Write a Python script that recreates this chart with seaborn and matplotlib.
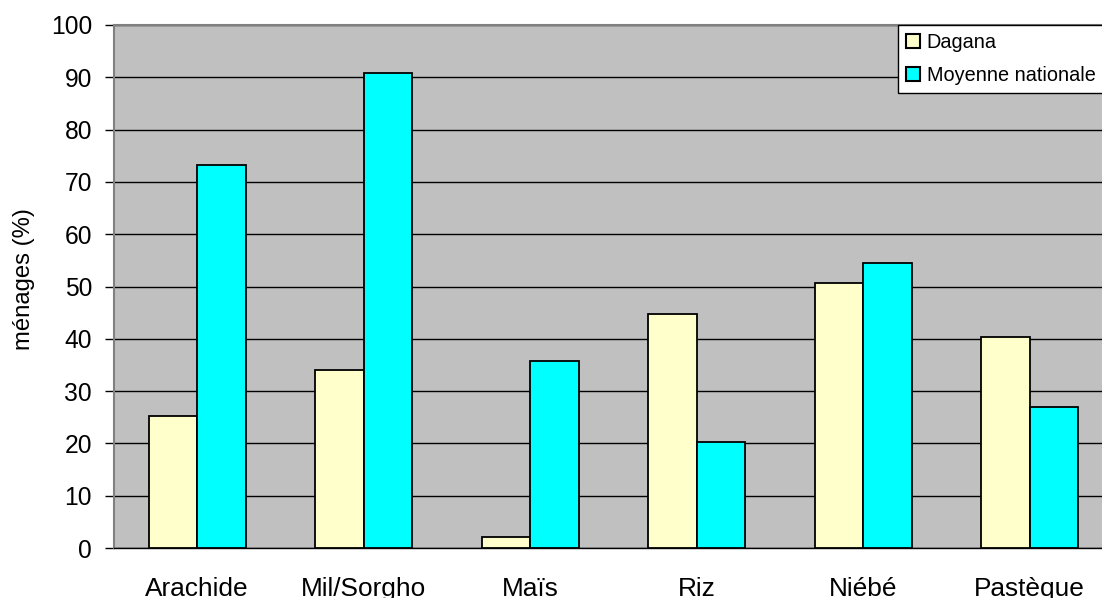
import matplotlib
matplotlib.use("Agg")
import matplotlib.pyplot as plt
import seaborn as sns
import pandas as pd
import numpy as np
from matplotlib.patches import Patch

# Crop categories and share of households (%) growing each one
categories = ["Arachide", "Mil/Sorgho", "Maïs", "Riz", "Niébé", "Pastèque"]
dagana = [25.2, 34.0, 2.1, 44.7, 50.7, 40.3]
moyenne_nationale = [73.2, 90.8, 35.8, 20.2, 54.5, 26.9]
series_names = ["Dagana", "Moyenne nationale"]
y_ticks = list(range(0, 101, 10))

df = pd.DataFrame({
    "culture": categories * 2,
    "serie": [series_names[0]] * len(categories) + [series_names[1]] * len(categories),
    "valeur": dagana + moyenne_nationale,
})

sns.set_theme(style="white")
plt.rcParams["font.family"] = ["Liberation Sans", "DejaVu Sans"]
plt.rcParams["text.color"] = "black"
plt.rcParams["axes.labelcolor"] = "black"
plt.rcParams["xtick.color"] = "black"
plt.rcParams["ytick.color"] = "black"

colors = {"Dagana": "#FFFFCC", "Moyenne nationale": "#00FFFF"}

W, H = 1102, 598
fig = plt.figure(figsize=(W / 100, H / 100), dpi=100)
fig.patch.set_facecolor("white")

# plot area in pixel terms (right edge runs past the figure border)
left, right, top, bottom = 114, 1113, 25, 548
ax = fig.add_axes([left / W, 1 - bottom / H, (right - left) / W, (bottom - top) / H])
ax.set_facecolor("#C0C0C0")

sns.barplot(data=df, x="culture", y="valeur", hue="serie", order=categories,
            hue_order=series_names, palette=colors, width=0.583, gap=0,
            edgecolor="black", linewidth=1.3, saturation=1, ax=ax, legend=False,
            zorder=3)

ax.set_ylim(0, 100)
ax.set_xlim(-0.5, len(categories) - 0.5)
ax.set_yticks(y_ticks)
ax.set_yticklabels([str(t) for t in y_ticks], fontsize=17.7)
ax.yaxis.grid(True, color="black", linewidth=1.0, zorder=1)
ax.set_axisbelow(True)

# category boundaries carry the tick marks, centres carry the labels
ax.set_xticks(np.arange(0.5, len(categories) - 0.5, 1.0))
ax.set_xticklabels([])
ax.set_xticks(np.arange(len(categories)), minor=True)
ax.set_xticklabels(categories, minor=True, fontsize=18.9)
ax.tick_params(axis="x", which="minor", length=0, pad=21)
ax.tick_params(axis="x", which="major", length=5, width=1, color="black",
               direction="out")
ax.tick_params(axis="y", length=6.5, width=1, color="black", direction="out",
               pad=9.4, left=True)

for side in ["top", "right", "left"]:
    ax.spines[side].set_color("#808080")
    ax.spines[side].set_linewidth(1.5)
ax.spines["bottom"].set_color("black")
ax.spines["bottom"].set_linewidth(1.0)

ax.set_xlabel("")
ax.set_ylabel("ménages (%)", fontsize=17.2)
ax.yaxis.set_label_coords(-0.079, 0.514)

handles = [Patch(facecolor=colors[s], edgecolor="black", linewidth=1.5, label=s)
           for s in series_names]
leg = fig.legend(handles=handles, loc="upper left",
                 bbox_to_anchor=(898 / W, 1 - 25 / H), fontsize=14.3,
                 frameon=True, fancybox=False, framealpha=1, edgecolor="black",
                 handlelength=0.7, handleheight=0.7, handletextpad=0.35,
                 borderpad=0.4, labelspacing=0.7, borderaxespad=0)
leg.get_frame().set_linewidth(1.0)

fig.savefig("out.png", dpi=100)
